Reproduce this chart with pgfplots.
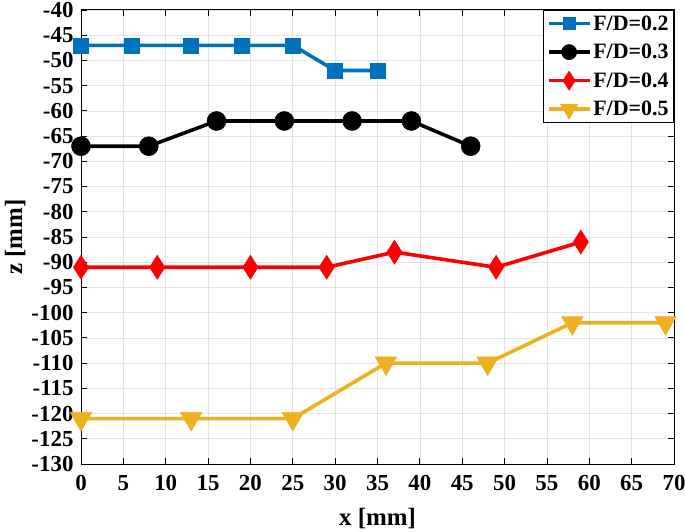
\documentclass[border=0pt]{standalone}
\usepackage{fontspec}
\setmainfont{Liberation Serif}
\usepackage{pgfplots}
\pgfplotsset{compat=1.18}
\definecolor{mblue}{rgb}{0,0.447,0.741}
\definecolor{myellow}{rgb}{0.929,0.694,0.125}
\begin{document}
\begin{tikzpicture}
\begin{axis}[
 scale only axis, width=593bp, height=454bp,
 xmin=0, xmax=70, ymin=-130, ymax=-40,
 xtick={0,5,...,70}, ytick={-130,-125,...,-40},
 grid=major, major grid style={gray!22, line width=0.7pt},
 tick align=inside, major tick length=6bp,
 axis line style={line width=1pt}, tick style={black, line width=0.8pt},
 tick label style={font=\fontsize{23}{23}\selectfont\bfseries},
 yticklabel style={xshift=-4bp},
 xticklabel style={yshift=-8bp},
 /pgf/number format/assume math mode=true,
 xlabel={x [mm]}, ylabel={z [mm]},
 every axis x label/.style={at={(axis description cs:0.5,-0.119)}, anchor=center},
 every axis y label/.style={at={(axis description cs:-0.111,0.5)}, rotate=90, anchor=center},
 label style={font=\fontsize{25}{25}\selectfont\bfseries},
 legend style={at={(1,1)}, anchor=north east, font=\fontsize{22}{22}\selectfont\bfseries, draw=black, line width=1pt, inner sep=3bp, row sep=8.5bp, nodes={inner sep=2bp}},
 legend cell align=left,
 legend image code/.code={\draw[mark repeat=2, mark phase=2, every mark/.append style={scale=0.8}] plot coordinates {(0cm,0cm) (0.72cm,0cm) (1.44cm,0cm)};},
]
\addplot[color=mblue, line width=3.6bp, mark=square*, mark size=7.5bp, mark options={solid, line width=0.5pt}] coordinates {
(0,-47) (6,-47) (13,-47) (19,-47) (25,-47) (30,-52) (35,-52)};
\addlegendentry{F/D=0.2}
\addplot[color=black, line width=3.6bp, mark=*, mark size=9.5bp, mark options={solid, line width=0.5pt}] coordinates {
(0,-67) (8,-67) (16,-62) (24,-62) (32,-62) (39,-62) (46,-67)};
\addlegendentry{F/D=0.3}
\addplot[color=red, line width=3.6bp, mark=diamond*, mark size=12bp, mark options={solid, xscale=0.85, line width=0.5pt}] coordinates {
(0,-91) (9,-91) (20,-91) (29,-91) (37,-88) (49,-91) (59,-86)};
\addlegendentry{F/D=0.4}
\addplot[color=myellow, line width=3.6bp, mark=triangle*, mark size=12.5bp, mark options={solid, rotate=180, line width=0.5pt}] coordinates {
(0,-121) (13,-121) (25,-121) (36,-110) (48,-110) (58,-102) (69,-102)};
\addlegendentry{F/D=0.5}
\end{axis}
\pgfresetboundingbox
\path ([shift={(-81bp,-67bp)}]current axis.south west) rectangle ([shift={(11bp,10bp)}]current axis.north east);
\end{tikzpicture}
\end{document}
